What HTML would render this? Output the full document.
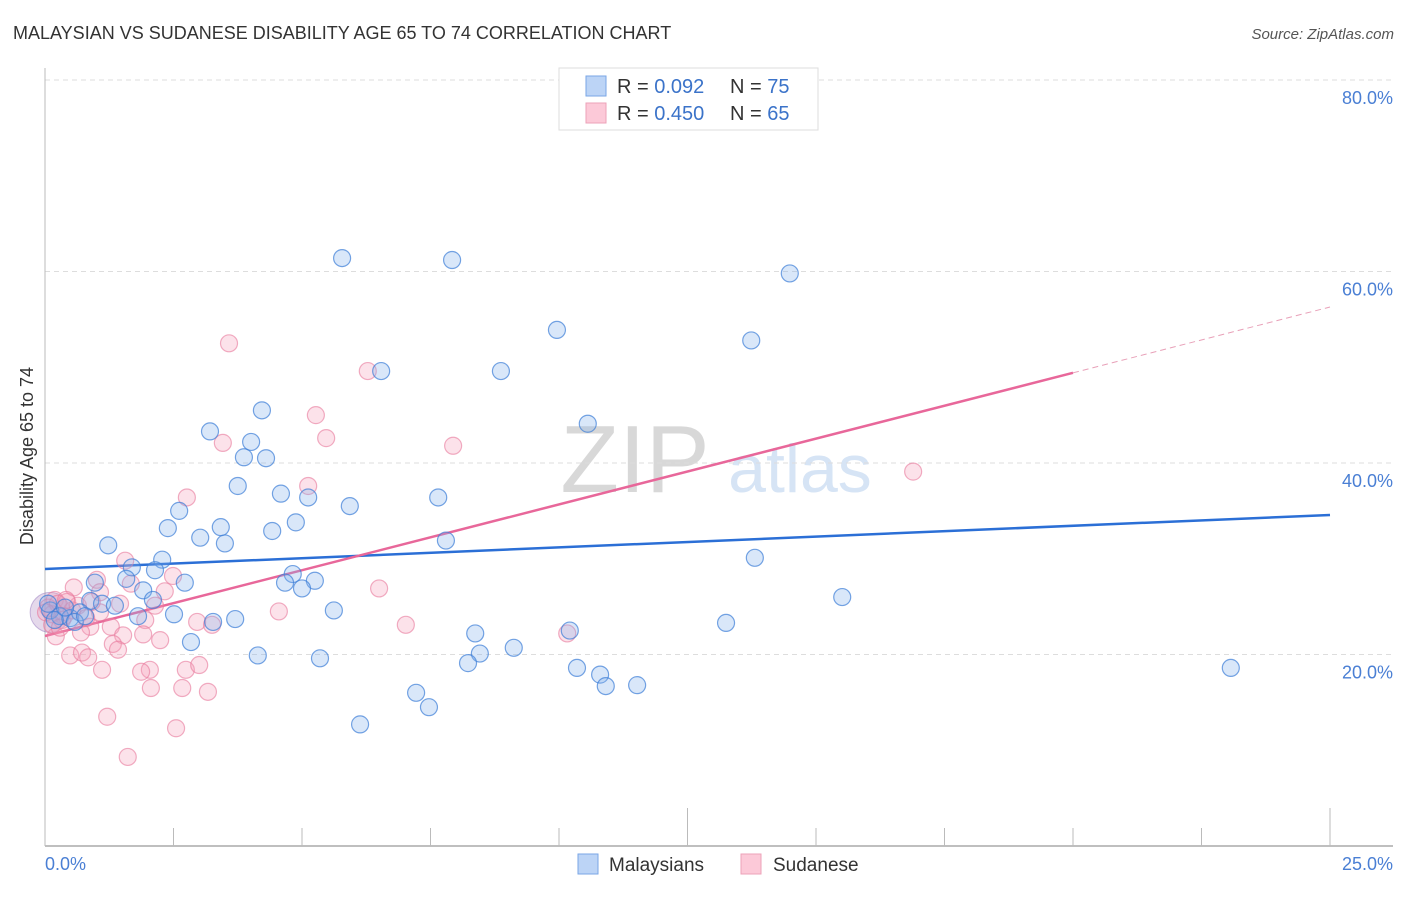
<!DOCTYPE html>
<html><head><meta charset="utf-8">
<style>
body{margin:0;background:#fff;font-family:"Liberation Sans",sans-serif;}
svg text{font-family:"Liberation Sans",sans-serif;}
</style></head>
<body>
<svg id="chart" width="1406" height="892" xmlns="http://www.w3.org/2000/svg">
<text x="13" y="39" font-size="18" fill="#333">MALAYSIAN VS SUDANESE DISABILITY AGE 65 TO 74 CORRELATION CHART</text>
<text x="1394" y="39" font-size="15" fill="#555" text-anchor="end" font-style="italic">Source: ZipAtlas.com</text>
<text transform="translate(33,456) rotate(-90)" font-size="18" fill="#333" text-anchor="middle">Disability Age 65 to 74</text>
<g>
<text x="635" y="492" font-size="96" fill="#d8d8d8" font-family="Liberation Serif" text-anchor="middle">ZIP</text>
<text x="800" y="492" font-size="68" fill="#d6e4f5" text-anchor="middle">atlas</text>
</g>
<g id="grid"></g>
<g id="axes"></g>
<g id="trend"></g>
<g id="pts"></g>
<g>
<rect x="559" y="68" width="259" height="62" fill="#fff" stroke="#ddd"/>
<rect x="586" y="76" width="20" height="20" fill="#bcd4f6" stroke="#7aa6e6"/>
<rect x="586" y="103" width="20" height="20" fill="#fcc9d8" stroke="#eca2b8"/>
<text x="617" y="93" font-size="20" fill="#333">R = <tspan fill="#3b73c9">0.092</tspan></text>
<text x="730" y="93" font-size="20" fill="#333">N = <tspan fill="#3b73c9">75</tspan></text>
<text x="617" y="120" font-size="20" fill="#333">R = <tspan fill="#3b73c9">0.450</tspan></text>
<text x="730" y="120" font-size="20" fill="#333">N = <tspan fill="#3b73c9">65</tspan></text>
</g>
<g>
<rect x="578" y="854" width="20" height="20" fill="#bcd4f6" stroke="#7aa6e6"/>
<text x="609" y="871" font-size="19" fill="#333">Malaysians</text>
<rect x="741" y="854" width="20" height="20" fill="#fcc9d8" stroke="#eca2b8"/>
<text x="773" y="871" font-size="19" fill="#333">Sudanese</text>
</g>
</svg>
<script>
const xTickVals=[0,25];
const xTickLabels=["0.0%","25.0%"];
const yTickVals=[20,40,60,80];
const yTickLabels=["20.0%","40.0%","60.0%","80.0%"];
const blueX=[5.78,7.92,14.49,9.96,13.74,6.54,8.87,4.22,10.56,3.21,4.01,3.87,4.30,3.75,4.59,5.12,7.65,5.93,2.61,4.88,2.39,3.42,4.42,3.02,3.50,7.80,1.23,2.28,13.81,1.69,2.14,4.82,1.58,2.72,5.25,4.67,0.97,5.00,1.91,15.51,2.10,0.88,1.11,1.36,5.62,2.51,1.81,3.70,3.27,13.25,10.21,8.37,2.84,9.12,8.46,4.14,5.35,8.23,10.35,23.07,10.80,10.91,11.52,7.22,7.47,6.13,0.10,0.29,0.49,0.68,0.19,0.39,0.58,0.78,0.06];
const blueY=[61.4,61.2,59.8,53.9,52.8,49.6,49.6,45.5,44.1,43.3,42.2,40.6,40.5,37.6,36.8,36.4,36.4,35.5,35.0,33.8,33.2,33.3,32.9,32.2,31.6,31.9,31.4,29.9,30.1,29.1,28.8,28.4,27.9,27.5,27.7,27.5,27.5,26.9,26.7,26.0,25.7,25.6,25.3,25.1,24.6,24.2,24.0,23.7,23.4,23.3,22.5,22.2,21.3,20.7,20.1,19.9,19.6,19.1,18.6,18.6,17.9,16.7,16.8,16.0,14.5,12.7,24.6,24.0,23.8,24.4,23.6,24.9,23.4,24.0,25.3];
const pinkX=[3.58,6.28,5.27,5.47,3.46,7.94,16.89,2.76,5.12,1.56,2.49,1.01,0.56,1.67,6.50,2.33,1.07,0.19,0.43,2.14,4.55,1.46,2.96,3.25,7.02,1.28,0.88,1.95,0.70,1.52,1.91,1.32,1.42,2.24,10.16,0.49,0.72,0.84,1.11,2.04,1.87,2.74,3.00,2.67,2.06,3.17,1.21,2.55,1.61,0.06,0.14,0.25,0.33,0.21,0.53,0.02,0.37,0.64,0.14,1.07,0.80,0.91,0.29,0.41];
const pinkY=[52.5,49.6,45.0,42.6,42.1,41.8,39.1,36.4,37.6,29.8,28.2,27.8,27.0,27.4,26.9,26.6,26.5,25.7,25.5,25.1,24.5,25.3,23.4,23.1,23.1,22.9,22.9,23.6,22.3,22.0,22.1,21.1,20.5,21.5,22.2,19.9,20.2,19.7,18.4,18.4,18.2,18.4,18.9,16.5,16.5,16.1,13.5,12.3,9.3,24.9,24.2,25.3,23.6,21.9,24.6,24.4,24.0,25.1,23.1,24.4,23.8,25.5,22.8,25.7];
const blueTrend=[28.93,34.57];
const pinkTrend=[21.93,56.29];
const pinkSolidEnd=20.0;

const X0=45,X1=1330,Y0=846,PX=191.5/20;
const sx=v=>X0+(X1-X0)*v/25;
const sy=v=>Y0-v*PX;
const NS="http://www.w3.org/2000/svg";
function mk(tag,attrs,parent){const e=document.createElementNS(NS,tag);for(const k in attrs)e.setAttribute(k,attrs[k]);document.getElementById(parent).appendChild(e);return e;}

yTickVals.forEach((v,i)=>{
  const g=mk('line',{x1:X0,x2:1393,y1:sy(v),y2:sy(v),stroke:'#ddd','stroke-dasharray':'5,4'},'grid');
  
  
  const t=mk('text',{x:1393,y:sy(v)+24,'font-size':18,fill:'#4a7fd4','text-anchor':'end'},'grid');
  t.textContent=yTickLabels[i];
  
  
});
const ax=mk('line',{x1:X0,x2:X0,y1:68,y2:Y0,stroke:'#bbb'},'axes');


const bx=mk('line',{x1:X0,x2:1393,y1:Y0,y2:Y0,stroke:'#aaa','stroke-width':1.5},'axes');


for(let i=0;i<=10;i++){
  const v=i*2.5;
  const tall=(i===5||i===10);
  const tk=mk('line',{x1:sx(v),x2:sx(v),y1:tall?808:828,y2:Y0,stroke:'#bbb'},'axes');
  
  
}
xTickVals.forEach((v,i)=>{
  const t=mk('text',{x:i===0?sx(v):1393,y:870,'font-size':18,fill:'#4a7fd4','text-anchor':i===0?'start':'end'},'axes');
  t.textContent=xTickLabels[i];
  
  
});

const big=mk('circle',{cx:sx(0.1),cy:sy(24.4),r:20,fill:'rgba(170,130,190,0.3)',stroke:'rgba(150,120,190,0.5)'},'pts');


pinkX.forEach((x,i)=>{
  const c=mk('circle',{cx:sx(x),cy:sy(pinkY[i]),r:8.5,fill:'rgba(246,160,186,0.3)',stroke:'rgba(232,120,155,0.6)','stroke-width':1.2},'pts');
  
  
});
blueX.forEach((x,i)=>{
  const c=mk('circle',{cx:sx(x),cy:sy(blueY[i]),r:8.5,fill:'rgba(130,175,235,0.3)',stroke:'rgba(60,125,215,0.7)','stroke-width':1.2},'pts');
  
  
});
const bl=mk('line',{x1:sx(0),y1:sy(blueTrend[0]),x2:sx(25),y2:sy(blueTrend[1]),stroke:'#2b6fd6','stroke-width':2.5},'trend');


const pAt=x=>pinkTrend[0]+(pinkTrend[1]-pinkTrend[0])*x/25;
const pl=mk('line',{x1:sx(0),y1:sy(pAt(0)),x2:sx(pinkSolidEnd),y2:sy(pAt(pinkSolidEnd)),stroke:'#e8679a','stroke-width':2.5},'trend');


const pd=mk('line',{x1:sx(pinkSolidEnd),y1:sy(pAt(pinkSolidEnd)),x2:sx(25),y2:sy(pAt(25)),stroke:'#e8a0b8','stroke-width':1,'stroke-dasharray':'6,4'},'trend');


</script>
</body></html>
